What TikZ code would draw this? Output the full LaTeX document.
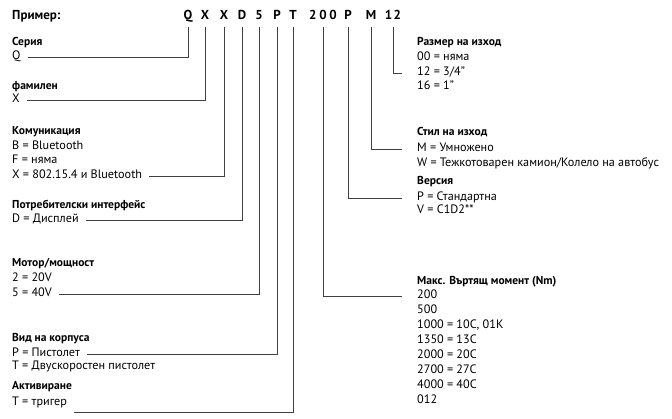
\documentclass[tikz,border=0pt]{standalone}
\usepackage{fontspec}
\setmainfont{PT Sans}
\usetikzlibrary{positioning}

\begin{document}
\begin{tikzpicture}[
    x=1pt, y=-1pt,
    codechar/.style={font=\fontsize{13}{15}\selectfont\bfseries, anchor=base, inner sep=0pt, text depth=0pt, outer ysep=7pt},
    grouptitle/.style={anchor=west, font=\fontsize{11.5}{13}\selectfont\bfseries, inner sep=0pt, text height=8pt, text depth=2.5pt},
    optlabel/.style={anchor=west, font=\fontsize{12.2}{14}\selectfont, inner sep=0pt, text height=8pt, text depth=2.5pt},
    lead/.style={draw=black!75, line width=0.8pt},
    leadleft/.style={lead, shorten >=7pt},
    leadright/.style={lead, shorten >=15pt}
]
\useasboundingbox (0,0) rectangle (672,419);

% Model code across the top, one node per field.
\node[font=\fontsize{13}{15}\selectfont\bfseries, anchor=base west, inner sep=0pt] (example) at (12,20) {Пример:};
\node[codechar] (cQ)   at (188,20) {Q};
\node[codechar] (cX)   at (205,20) {X};
\node[codechar] (cX2)  at (224,20) {X};
\node[codechar] (cD)   at (242,20) {D};
\node[codechar] (c5)   at (259,20) {5};
\node[codechar] (cP)   at (277,20) {P};
\node[codechar] (cT)   at (293,20) {T};
\node[codechar] (c200) at (323,20) {2\hspace{2.8pt}0\hspace{2.8pt}0};
\node[codechar] (cP2)  at (348,20) {P};
\node[codechar] (cM)   at (371,20) {M};
\node[codechar] (c12)  at (393,20) {1\hspace{1.5pt}2};

% Left column: groups for the first seven fields.
\node[grouptitle] (tSer) at (12,43) {Серия};
\node[optlabel]   (lQ)   at (12,57) {Q};

\node[grouptitle] (tFam) at (12,87) {фамилен};
\node[optlabel]   (lX)   at (12,100) {X};

\node[grouptitle] (tCom) at (12,132) {Комуникация};
\node[optlabel]   (lB)   at (12,147) {B = Bluetooth};
\node[optlabel]   (lF)   at (12,161) {F = няма};
\node[optlabel]   (lXB)  at (12,176) {X = 802.15.4 и Bluetooth};

\node[grouptitle] (tUi)  at (12,206) {Потребителски интерфейс};
\node[optlabel]   (lD)   at (12,220) {D = Дисплей};

\node[grouptitle] (tMot) at (12,264) {Мотор/мощност};
\node[optlabel]   (l2)   at (12,279) {2 = 20V};
\node[optlabel]   (l5)   at (12,294) {5 = 40V};

\node[grouptitle] (tBody) at (12,339) {Вид на корпуса};
\node[optlabel]   (lPis)  at (12,354) {P = Пистолет};
\node[optlabel]   (lTwo)  at (12,367) {T = Двускоростен пистолет};

\node[grouptitle] (tAct)  at (12,387) {Активиране};
\node[optlabel]   (lTrig) at (12,403) {T = тригер};

% Right column: groups for the last four fields.
\node[grouptitle] (tSize) at (417,43) {Размер на изход};
\node[optlabel]   (r00)   at (417,58) {00 = няма};
\node[optlabel]   (r12)   at (417,73) {12 = 3/4"};
\node[optlabel]   (r16)   at (417,87) {16 = 1"};

\node[grouptitle] (tStyle) at (417,133) {Стил на изход};
\node[optlabel]   (rM)     at (417,149) {M = Умножено};
\node[optlabel]   (rW)     at (417,164) {W = Тежкотоварен камион/Колело на автобус};

\node[grouptitle] (tVer) at (417,182) {Версия};
\node[optlabel]   (rP)   at (417,198) {P = Стандартна};
\node[optlabel]   (rV)   at (417,211) {V = C1D2**};

\node[grouptitle] (tTorque) at (417,282) {Макс. Въртящ момент (Nm)};
\foreach \v [count=\i] in {200, 500, {1000 = 10C, 01K}, {1350 = 13C}, {2000 = 20C}, {2700 = 27C}, {4000 = 40C}, 012} {
  \node[optlabel] (tq\i) at (417, {281+15*\i}) {\v};
}

% Leader lines from each code field down to its group.
\draw[leadleft] (cQ.south) |- (lQ.east);
\draw[leadleft] (cX.south) |- (lX.east);
\draw[leadleft] (cX2.south) |- (lXB.east);
\draw[leadleft] (cD.south) |- (lD.east);
\draw[leadleft] (c5.south) |- (l5.east);
\draw[leadleft] (cP.south) |- (lPis.east);
\draw[leadleft] (cT.south) |- ([yshift=-9pt]lTrig.east);
\draw[leadright] (c200.south) |- (tq1.west);
\draw[leadright] (cP2.south) |- (rP.west);
\draw[leadright] (cM.south) |- (rM.west);
\draw[leadright] (c12.south) |- (r12.west);
\end{tikzpicture}
\end{document}
